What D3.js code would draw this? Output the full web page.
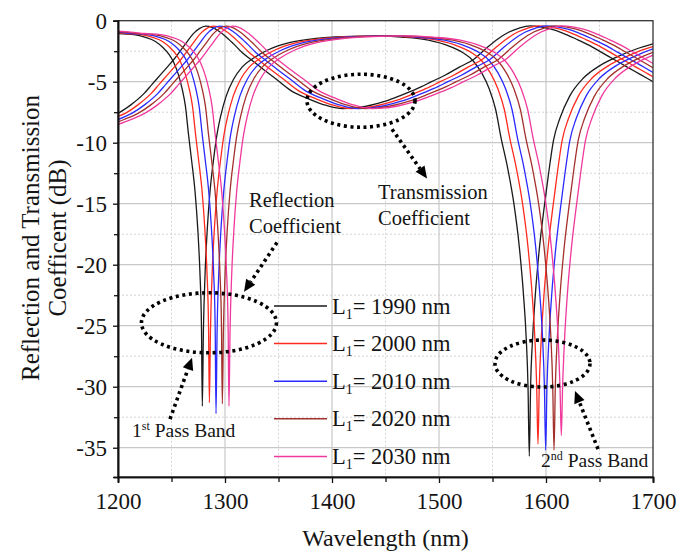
<!DOCTYPE html>
<html>
<head>
<meta charset="utf-8">
<script src="https://cdn.jsdelivr.net/npm/d3@7"></script>
<style>
  body { margin: 0; background: #ffffff; }
  svg { display: block; }
  svg text { font-family: "Times New Roman", "Liberation Serif", Tinos, "DejaVu Serif", serif; fill: #141414; }
</style>
</head>
<body>
<svg id="chart" width="676" height="556"></svg>
<script>
// ---- data: wavelength (nm) / coefficient (dB) pairs per cavity length L1 ----
const seriesLabels = ["1990", "2000", "2010", "2020", "2030"];
const seriesColors = ["#1a1a1a", "#ff2a1f", "#2a2aff", "#a3302c", "#f0389c"];

const reflection1990 = [[1200,-1.05],[1215,-1.15],[1225,-1.35],[1235,-1.7],[1242,-2.2],[1248,-2.8],[1252,-3.4],[1256,-4.3],[1260,-5.6],[1263,-7.0],[1266,-9.4],[1269,-11.6],[1272,-14.0],[1274.5,-17.0],[1276.5,-20.5],[1278,-25.0],[1278.8,-31.6],[1279.8,-25.5],[1281.5,-20.5],[1283.5,-17.0],[1286,-14.0],[1289,-11.6],[1292,-9.6],[1296,-7.8],[1301,-6.2],[1308,-4.8],[1316,-3.8],[1326,-3.1],[1340,-2.4],[1360,-1.8],[1385,-1.45],[1410,-1.3],[1440,-1.25],[1465,-1.35],[1490,-1.6],[1510,-2.1],[1522,-2.6],[1532,-3.3],[1540,-4.3],[1547,-5.6],[1553,-7.3],[1558,-9.6],[1564,-12.0],[1570,-15.0],[1575,-18.5],[1579,-22.5],[1581.5,-26.0],[1583.2,-30.0],[1584.4,-35.7],[1585.6,-30.0],[1587.5,-26.0],[1590,-22.5],[1594,-18.5],[1598,-15.5],[1602,-12.8],[1607,-9.8],[1613,-8.0],[1622,-6.2],[1635,-4.7],[1650,-3.7],[1668,-2.9],[1685,-2.3],[1700,-1.9]];
const reflection2000 = [[1200,-0.99],[1206.6,-1.05],[1221.6,-1.15],[1231.6,-1.35],[1241.6,-1.7],[1248.6,-2.2],[1254.6,-2.8],[1258.6,-3.4],[1262.6,-4.3],[1266.6,-5.6],[1269.6,-7.0],[1272.6,-9.4],[1275.6,-11.6],[1278.6,-14.0],[1281.1,-17.0],[1283.1,-20.5],[1284.6,-25.0],[1285.4,-31.3],[1286.4,-25.5],[1288.1,-20.5],[1290.1,-17.0],[1292.6,-14.0],[1295.6,-11.6],[1298.6,-9.6],[1302.6,-7.8],[1307.6,-6.2],[1314.6,-4.8],[1322.6,-3.8],[1332.6,-3.1],[1346.7,-2.4],[1366.9,-1.8],[1392.2,-1.45],[1417.4,-1.3],[1447.7,-1.25],[1473.0,-1.35],[1498.1,-1.6],[1518.1,-2.1],[1530.1,-2.6],[1540.1,-3.3],[1548.1,-4.3],[1555.1,-5.6],[1561.1,-7.3],[1566.1,-9.6],[1572.1,-12.0],[1578.1,-15.0],[1583.1,-18.5],[1587.1,-22.5],[1589.6,-26.0],[1591.3,-30.0],[1592.5,-34.7],[1593.7,-30.0],[1595.6,-26.0],[1598.1,-22.5],[1602.1,-18.5],[1606.1,-15.5],[1610.1,-12.8],[1615.1,-9.8],[1621.1,-8.0],[1630.1,-6.2],[1643.1,-4.7],[1658.1,-3.7],[1676.1,-2.9],[1693.1,-2.3],[1700,-2.12]];
const reflection2010 = [[1200,-0.93],[1212.8,-1.05],[1227.8,-1.15],[1237.8,-1.35],[1247.8,-1.7],[1254.8,-2.2],[1260.8,-2.8],[1264.8,-3.4],[1268.8,-4.3],[1272.8,-5.6],[1275.8,-7.0],[1278.8,-9.4],[1281.8,-11.6],[1284.8,-14.0],[1287.3,-17.0],[1289.3,-20.5],[1290.8,-25.0],[1291.6,-32.2],[1292.6,-25.5],[1294.3,-20.5],[1296.3,-17.0],[1298.8,-14.0],[1301.8,-11.6],[1304.8,-9.6],[1308.8,-7.8],[1313.8,-6.2],[1320.8,-4.8],[1328.8,-3.8],[1338.8,-3.1],[1353.0,-2.4],[1373.3,-1.8],[1398.7,-1.45],[1424.1,-1.3],[1454.6,-1.25],[1480.1,-1.35],[1505.3,-1.6],[1525.3,-2.1],[1537.3,-2.6],[1547.3,-3.3],[1555.3,-4.3],[1562.3,-5.6],[1568.3,-7.3],[1573.3,-9.6],[1579.3,-12.0],[1585.3,-15.0],[1590.3,-18.5],[1594.3,-22.5],[1596.8,-26.0],[1598.5,-30.0],[1599.7,-35.2],[1600.9,-30.0],[1602.8,-26.0],[1605.3,-22.5],[1609.3,-18.5],[1613.3,-15.5],[1617.3,-12.8],[1622.3,-9.8],[1628.3,-8.0],[1637.3,-6.2],[1650.3,-4.7],[1665.3,-3.7],[1683.3,-2.9],[1700,-2.31]];
const reflection2020 = [[1200,-0.89],[1205.7,-0.93],[1218.7,-1.05],[1233.7,-1.15],[1243.7,-1.35],[1253.7,-1.7],[1260.7,-2.2],[1266.7,-2.8],[1270.7,-3.4],[1274.7,-4.3],[1278.7,-5.6],[1281.7,-7.0],[1284.7,-9.4],[1287.7,-11.6],[1290.7,-14.0],[1293.2,-17.0],[1295.2,-20.5],[1296.7,-25.0],[1297.5,-31.4],[1298.5,-25.5],[1300.2,-20.5],[1302.2,-17.0],[1304.7,-14.0],[1307.7,-11.6],[1310.7,-9.6],[1314.7,-7.8],[1319.7,-6.2],[1326.7,-4.8],[1334.7,-3.8],[1344.7,-3.1],[1359.0,-2.4],[1379.6,-1.8],[1405.3,-1.45],[1431.1,-1.3],[1461.9,-1.25],[1487.7,-1.35],[1513.1,-1.6],[1533.1,-2.1],[1545.1,-2.6],[1555.1,-3.3],[1563.1,-4.3],[1570.1,-5.6],[1576.1,-7.3],[1581.1,-9.6],[1587.1,-12.0],[1593.1,-15.0],[1598.1,-18.5],[1602.1,-22.5],[1604.6,-26.0],[1606.3,-30.0],[1607.5,-35.2],[1608.7,-30.0],[1610.6,-26.0],[1613.1,-22.5],[1617.1,-18.5],[1621.1,-15.5],[1625.1,-12.8],[1630.1,-9.8],[1636.1,-8.0],[1645.1,-6.2],[1658.1,-4.7],[1673.1,-3.7],[1691.1,-2.9],[1700,-2.59]];
const reflection2030 = [[1200,-0.85],[1211.9,-0.93],[1224.9,-1.05],[1239.9,-1.15],[1249.9,-1.35],[1259.9,-1.7],[1266.9,-2.2],[1272.9,-2.8],[1276.9,-3.4],[1280.9,-4.3],[1284.9,-5.6],[1287.9,-7.0],[1290.9,-9.4],[1293.9,-11.6],[1296.9,-14.0],[1299.4,-17.0],[1301.4,-20.5],[1302.9,-25.0],[1303.7,-31.6],[1304.7,-25.5],[1306.4,-20.5],[1308.4,-17.0],[1310.9,-14.0],[1313.9,-11.6],[1316.9,-9.6],[1320.9,-7.8],[1325.9,-6.2],[1332.9,-4.8],[1340.9,-3.8],[1350.9,-3.1],[1365.2,-2.4],[1385.9,-1.8],[1411.7,-1.45],[1437.6,-1.3],[1468.6,-1.25],[1494.4,-1.35],[1519.9,-1.6],[1539.9,-2.1],[1551.9,-2.6],[1561.9,-3.3],[1569.9,-4.3],[1576.9,-5.6],[1582.9,-7.3],[1587.9,-9.6],[1593.9,-12.0],[1599.9,-15.0],[1604.9,-18.5],[1608.9,-22.5],[1611.4,-26.0],[1613.1,-30.0],[1614.3,-34.0],[1615.5,-30.0],[1617.4,-26.0],[1619.9,-22.5],[1623.9,-18.5],[1627.9,-15.5],[1631.9,-12.8],[1636.9,-9.8],[1642.9,-8.0],[1651.9,-6.2],[1664.9,-4.7],[1679.9,-3.7],[1697.9,-2.9],[1700,-2.83]];

const transmission1990 = [[1200,-7.6],[1212,-6.9],[1224,-6.0],[1232,-5.2],[1240,-4.4],[1246,-3.8],[1252,-3.2],[1258,-2.5],[1264,-1.8],[1270,-1.1],[1276,-0.65],[1282,-0.45],[1288,-0.55],[1294,-0.85],[1300,-1.25],[1308,-1.9],[1316,-2.6],[1326,-3.3],[1336,-4.0],[1348,-4.8],[1362,-5.75],[1378,-6.4],[1395,-6.95],[1410,-7.2],[1422,-7.15],[1435,-6.95],[1450,-6.6],[1465,-6.1],[1480,-5.55],[1493,-5.0],[1506,-4.45],[1519,-3.8],[1532,-3.2],[1545,-2.2],[1555,-1.5],[1565,-0.95],[1575,-0.6],[1585,-0.42],[1595,-0.5],[1605,-0.7],[1615,-1.0],[1628,-1.5],[1640,-2.0],[1652,-2.6],[1664,-3.2],[1676,-3.8],[1688,-4.4],[1700,-5.0]];
const transmission2000 = [[1200,-7.85],[1206.6,-7.6],[1218.6,-6.9],[1230.6,-6.0],[1238.6,-5.2],[1246.6,-4.4],[1252.6,-3.8],[1258.6,-3.2],[1264.6,-2.5],[1270.6,-1.8],[1276.6,-1.1],[1282.6,-0.65],[1288.6,-0.45],[1294.6,-0.55],[1300.6,-0.85],[1306.6,-1.25],[1314.6,-1.9],[1322.6,-2.6],[1332.6,-3.3],[1342.7,-4.0],[1354.8,-4.8],[1368.9,-5.75],[1385.1,-6.4],[1402.3,-6.95],[1417.4,-7.2],[1429.5,-7.15],[1442.7,-6.95],[1457.8,-6.6],[1473.0,-6.1],[1488.1,-5.55],[1501.1,-5.0],[1514.1,-4.45],[1527.1,-3.8],[1540.1,-3.2],[1553.1,-2.2],[1563.1,-1.5],[1573.1,-0.95],[1583.1,-0.6],[1593.1,-0.42],[1603.1,-0.5],[1613.1,-0.7],[1623.1,-1.0],[1636.1,-1.5],[1648.1,-2.0],[1660.1,-2.6],[1672.1,-3.2],[1684.1,-3.8],[1696.1,-4.4],[1700,-4.6]];
const transmission2010 = [[1200,-8.1],[1212.8,-7.6],[1224.8,-6.9],[1236.8,-6.0],[1244.8,-5.2],[1252.8,-4.4],[1258.8,-3.8],[1264.8,-3.2],[1270.8,-2.5],[1276.8,-1.8],[1282.8,-1.1],[1288.8,-0.65],[1294.8,-0.45],[1300.8,-0.55],[1306.8,-0.85],[1312.8,-1.25],[1320.8,-1.9],[1328.8,-2.6],[1338.8,-3.3],[1348.9,-4.0],[1361.1,-4.8],[1375.3,-5.75],[1391.6,-6.4],[1408.9,-6.95],[1424.1,-7.2],[1436.3,-7.15],[1449.6,-6.95],[1464.8,-6.6],[1480.1,-6.1],[1495.3,-5.55],[1508.3,-5.0],[1521.3,-4.45],[1534.3,-3.8],[1547.3,-3.2],[1560.3,-2.2],[1570.3,-1.5],[1580.3,-0.95],[1590.3,-0.6],[1600.3,-0.42],[1610.3,-0.5],[1620.3,-0.7],[1630.3,-1.0],[1643.3,-1.5],[1655.3,-2.0],[1667.3,-2.6],[1679.3,-3.2],[1691.3,-3.8],[1700,-4.25]];
const transmission2020 = [[1200,-8.3],[1205.7,-8.1],[1218.7,-7.6],[1230.7,-6.9],[1242.7,-6.0],[1250.7,-5.2],[1258.7,-4.4],[1264.7,-3.8],[1270.7,-3.2],[1276.7,-2.5],[1282.7,-1.8],[1288.7,-1.1],[1294.7,-0.65],[1300.7,-0.45],[1306.7,-0.55],[1312.7,-0.85],[1318.7,-1.25],[1326.7,-1.9],[1334.7,-2.6],[1344.7,-3.3],[1354.9,-4.0],[1367.2,-4.8],[1381.6,-5.75],[1398.1,-6.4],[1415.6,-6.95],[1431.1,-7.2],[1443.4,-7.15],[1456.8,-6.95],[1472.2,-6.6],[1487.7,-6.1],[1503.1,-5.55],[1516.1,-5.0],[1529.1,-4.45],[1542.1,-3.8],[1555.1,-3.2],[1568.1,-2.2],[1578.1,-1.5],[1588.1,-0.95],[1598.1,-0.6],[1608.1,-0.42],[1618.1,-0.5],[1628.1,-0.7],[1638.1,-1.0],[1651.1,-1.5],[1663.1,-2.0],[1675.1,-2.6],[1687.1,-3.2],[1700,-3.85]];
const transmission2030 = [[1200,-8.5],[1211.9,-8.1],[1224.9,-7.6],[1236.9,-6.9],[1248.9,-6.0],[1256.9,-5.2],[1264.9,-4.4],[1270.9,-3.8],[1276.9,-3.2],[1282.9,-2.5],[1288.9,-1.8],[1294.9,-1.1],[1300.9,-0.65],[1306.9,-0.45],[1312.9,-0.55],[1318.9,-0.85],[1324.9,-1.25],[1332.9,-1.9],[1340.9,-2.6],[1350.9,-3.3],[1361.1,-4.0],[1373.5,-4.8],[1388.0,-5.75],[1404.5,-6.4],[1422.1,-6.95],[1437.6,-7.2],[1450.0,-7.15],[1463.4,-6.95],[1478.9,-6.6],[1494.4,-6.1],[1509.9,-5.55],[1522.9,-5.0],[1535.9,-4.45],[1548.9,-3.8],[1561.9,-3.2],[1574.9,-2.2],[1584.9,-1.5],[1594.9,-0.95],[1604.9,-0.6],[1614.9,-0.42],[1624.9,-0.5],[1634.9,-0.7],[1644.9,-1.0],[1657.9,-1.5],[1669.9,-2.0],[1681.9,-2.6],[1693.9,-3.2],[1700,-3.5]];

const reflectionSeries = [reflection1990, reflection2000, reflection2010, reflection2020, reflection2030];
const transmissionSeries = [transmission1990, transmission2000, transmission2010, transmission2020, transmission2030];

const xTicks = [1200, 1300, 1400, 1500, 1600, 1700];
const xMinorTicks = [1250, 1350, 1450, 1550, 1650];
const yTicks = [0, -5, -10, -15, -20, -25, -30, -35];
const yMinorTicks = [-2.5, -7.5, -12.5, -17.5, -22.5, -27.5, -32.5];

// ---- layout ----
const serif = "'Times New Roman', 'Liberation Serif', Tinos, 'DejaVu Serif', serif";
const plot = { left: 118, right: 653, top: 20.7, bottom: 477 };

const svg = d3.select("#chart").attr("font-family", serif);
const x = d3.scaleLinear().domain([1200, 1700]).range([plot.left, plot.right]);
const y = d3.scaleLinear().domain([-37.4, 0]).range([plot.bottom, plot.top]);

// grid
const grid = svg.append("g");
grid.selectAll("line.vmin").data(xMinorTicks).join("line")
  .attr("x1", d => x(d)).attr("x2", d => x(d)).attr("y1", plot.top).attr("y2", plot.bottom)
  .attr("stroke", "#d4d4d4").attr("stroke-width", 1).attr("stroke-dasharray", "2,2");
grid.selectAll("line.hmin").data(yMinorTicks).join("line")
  .attr("x1", plot.left).attr("x2", plot.right).attr("y1", d => y(d)).attr("y2", d => y(d))
  .attr("stroke", "#d4d4d4").attr("stroke-width", 1).attr("stroke-dasharray", "2,2");
grid.selectAll("line.vmaj").data(xTicks.slice(1, -1)).join("line")
  .attr("x1", d => x(d)).attr("x2", d => x(d)).attr("y1", plot.top).attr("y2", plot.bottom)
  .attr("stroke", "#c8c8c8").attr("stroke-width", 1.2);
grid.selectAll("line.hmaj").data(yTicks.slice(1)).join("line")
  .attr("x1", plot.left).attr("x2", plot.right).attr("y1", d => y(d)).attr("y2", d => y(d))
  .attr("stroke", "#c8c8c8").attr("stroke-width", 1.2);

// curves
svg.append("clipPath").attr("id", "plotClip").append("rect")
  .attr("x", plot.left).attr("y", plot.top)
  .attr("width", plot.right - plot.left).attr("height", plot.bottom - plot.top);

const line = d3.line().x(d => x(d[0])).y(d => y(d[1])).curve(d3.curveMonotoneX);
const curves = svg.append("g").attr("clip-path", "url(#plotClip)");
seriesLabels.forEach((lab, i) => {
  [transmissionSeries[i], reflectionSeries[i]].forEach(s => {
    curves.append("path").datum(s).attr("d", line)
      .attr("fill", "none").attr("stroke", seriesColors[i]).attr("stroke-width", 1.3)
      .attr("stroke-linejoin", "round");
  });
});

// frame
svg.append("rect").attr("x", plot.left).attr("y", plot.top)
  .attr("width", plot.right - plot.left).attr("height", plot.bottom - plot.top)
  .attr("fill", "none").attr("stroke", "#333").attr("stroke-width", 1.3);

// axes
const fmt = d => String(d);
svg.append("g").attr("transform", `translate(0,${plot.bottom})`)
  .call(d3.axisBottom(x).tickValues(xTicks).tickSize(6).tickPadding(10).tickFormat(fmt));
svg.append("g").attr("transform", `translate(0,${plot.bottom})`)
  .call(d3.axisBottom(x).tickValues(xMinorTicks).tickSize(5).tickFormat(""));
svg.append("g").attr("transform", `translate(${plot.left},0)`)
  .call(d3.axisLeft(y).tickValues(yTicks).tickSize(5).tickPadding(6).tickFormat(fmt));
svg.append("g").attr("transform", `translate(${plot.left},0)`)
  .call(d3.axisLeft(y).tickValues(yMinorTicks).tickSize(4).tickFormat(""));
svg.selectAll(".domain").attr("stroke", "#111").attr("stroke-width", 1.6);
svg.selectAll(".tick line").attr("stroke", "#111").attr("stroke-width", 1.3);
svg.selectAll("g").filter(function () { return this.getAttribute("font-family"); })
  .attr("font-family", serif);
svg.selectAll(".tick text").attr("font-size", 23).attr("fill", "#141414");

// axis titles
svg.append("text").attr("x", (plot.left + plot.right) / 2).attr("y", 546)
  .attr("text-anchor", "middle").attr("font-size", 24).text("Wavelength (nm)");
svg.append("text").attr("transform", "translate(39,238) rotate(-90)")
  .attr("text-anchor", "middle").attr("font-size", 25).text("Reflection and Transmission");
svg.append("text").attr("transform", "translate(66,238) rotate(-90)")
  .attr("text-anchor", "middle").attr("font-size", 25).text("Coefficent (dB)");

// legend
const legend = svg.append("g");
seriesLabels.forEach((lab, i) => {
  const ly = 306 + i * 37.6;
  legend.append("line").attr("x1", 274).attr("x2", 327).attr("y1", ly).attr("y2", ly)
    .attr("stroke", seriesColors[i]).attr("stroke-width", 1.5);
  const t = legend.append("text").attr("x", 332).attr("y", ly + 7.5).attr("font-size", 22.5);
  t.append("tspan").text("L");
  t.append("tspan").attr("font-size", 14).attr("dy", 5).text("1");
  t.append("tspan").attr("dy", -5).text(`= ${lab} nm`);
});

// annotations: dotted ellipses, dotted arrows and labels (data coordinates)
const dotted = { stroke: "#000", width: 3.6, dash: "3,3.6" };
const ellipses = [
  { cx: 1285.0, cy: -24.76, rx: 67.5, ry: 30 },
  { cx: 1427.1, cy: -6.56, rx: 54, ry: 26.5 },
  { cx: 1596.7, cy: -28.1, rx: 47.5, ry: 23.5 }
];
const ann = svg.append("g");
ellipses.forEach(e => {
  ann.append("ellipse").attr("cx", x(e.cx)).attr("cy", y(e.cy)).attr("rx", e.rx).attr("ry", e.ry)
    .attr("fill", "none").attr("stroke", dotted.stroke).attr("stroke-width", dotted.width)
    .attr("stroke-dasharray", dotted.dash);
});
const arrows = [
  { from: [1348.6, -18.18], to: [1317.8, -22.21] },
  { from: [1248.6, -32.65], to: [1269.2, -27.63] },
  { from: [1456.1, -8.90], to: [1488.8, -12.93] },
  { from: [1648.6, -35.11], to: [1627.1, -30.35] }
];
arrows.forEach(a => {
  const x0 = x(a.from[0]), y0 = y(a.from[1]), x1 = x(a.to[0]), y1 = y(a.to[1]);
  const len = Math.hypot(x1 - x0, y1 - y0), ux = (x1 - x0) / len, uy = (y1 - y0) / len;
  const headL = 12, headW = 5.5;
  const bx = x1 - ux * headL, by = y1 - uy * headL;
  ann.append("line").attr("x1", x0).attr("y1", y0).attr("x2", bx).attr("y2", by)
    .attr("stroke", dotted.stroke).attr("stroke-width", dotted.width).attr("stroke-dasharray", dotted.dash);
  ann.append("path")
    .attr("d", `M${x1},${y1}L${bx - uy * headW},${by + ux * headW}L${bx + uy * headW},${by - ux * headW}Z`)
    .attr("fill", "#000");
});

const noteSize = 20.5;
ann.append("text").attr("x", 249).attr("y", 207).attr("font-size", noteSize).text("Reflection");
ann.append("text").attr("x", 249).attr("y", 233).attr("font-size", noteSize).text("Coefficient");
ann.append("text").attr("x", 378).attr("y", 199).attr("font-size", noteSize).text("Transmission");
ann.append("text").attr("x", 378).attr("y", 225).attr("font-size", noteSize).text("Coefficient");

function passBand(px, py, num, suffix) {
  const t = ann.append("text").attr("x", px).attr("y", py).attr("font-size", 19.5);
  t.append("tspan").text(num);
  t.append("tspan").attr("font-size", 12).attr("dy", -7).text(suffix);
  t.append("tspan").attr("dy", 7).text(" Pass Band");
}
passBand(132, 437, "1", "st");
passBand(541, 467, "2", "nd");
</script>
</body>
</html>
